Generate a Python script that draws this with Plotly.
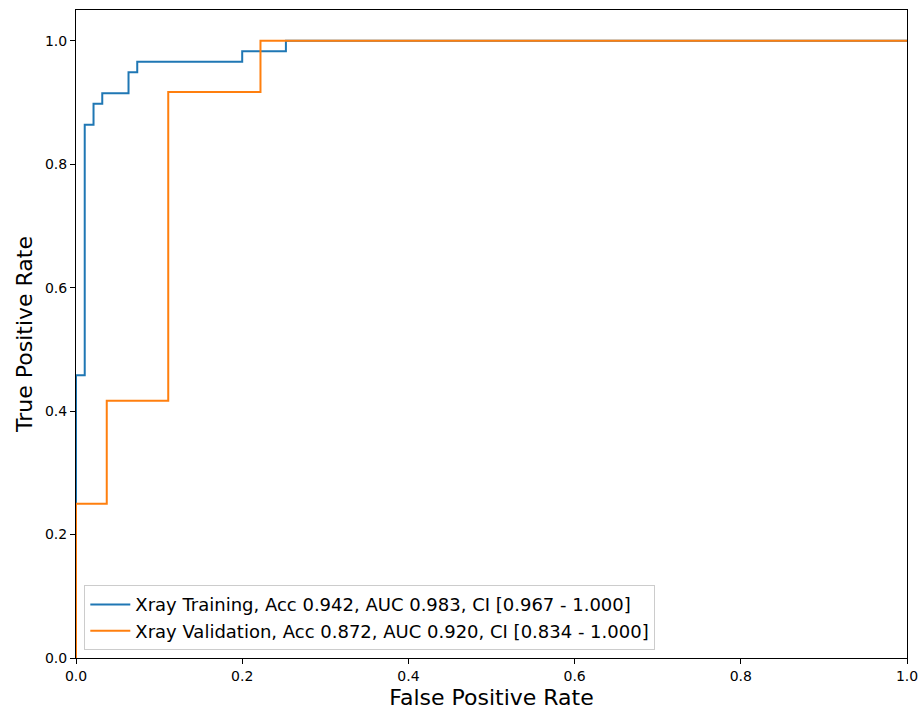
import plotly.graph_objects as go

train_fpr = [0.0, 0.0, 0.0105, 0.0211, 0.0316, 0.0632, 0.0737, 0.2, 0.2526, 1.0]
train_tpr = [0.0, 0.458, 0.864, 0.898, 0.915, 0.949, 0.966, 0.983, 1.0, 1.0]
val_fpr = [0.0, 0.0, 0.037, 0.111, 0.222, 1.0]
val_tpr = [0.0, 0.25, 0.417, 0.917, 1.0, 1.0]
train_label = "Xray Training, Acc 0.942, AUC 0.983, CI [0.967 - 1.000]"
val_label = "Xray Validation, Acc 0.872, AUC 0.920, CI [0.834 - 1.000]"
x_ticks = [0.0, 0.2, 0.4, 0.6, 0.8, 1.0]
y_ticks = [0.0, 0.2, 0.4, 0.6, 0.8, 1.0]

font = "DejaVu Sans"
fig = go.Figure()
fig.add_trace(go.Scatter(x=train_fpr, y=train_tpr, mode="lines", line_shape="hv",
                         line=dict(color="#1f77b4", width=2), name=train_label))
fig.add_trace(go.Scatter(x=val_fpr, y=val_tpr, mode="lines", line_shape="hv",
                         line=dict(color="#ff7f0e", width=2), name=val_label))

axis_common = dict(showgrid=False, zeroline=False, showline=True, linecolor="black",
                   linewidth=1, mirror=True, ticks="outside", ticklen=5, tickwidth=1,
                   tickcolor="black", automargin=False,
                   tickfont=dict(family=font, size=14, color="black"))
fig.update_xaxes(range=[0, 1], tickvals=x_ticks, ticktext=[f"{v:.1f}" for v in x_ticks],
                 title=dict(text="False Positive Rate", font=dict(family=font, size=22, color="black"), standoff=9),
                 **axis_common)
fig.update_yaxes(range=[0, 1.05], tickvals=y_ticks, ticktext=[f"{v:.1f}" for v in y_ticks],
                 title=dict(text="True Positive Rate", font=dict(family=font, size=22, color="black"), standoff=6),
                 **axis_common)
fig.update_layout(
    width=920, height=710,
    margin=dict(l=76, r=13, t=10, b=52),
    plot_bgcolor="white", paper_bgcolor="white",
    font=dict(family=font, color="black"),
    legend=dict(x=0.01, y=0.012, xanchor="left", yanchor="bottom", itemwidth=40,
                bgcolor="rgba(255,255,255,0.8)", bordercolor="#cccccc", borderwidth=1,
                font=dict(family=font, size=18, color="black")),
)
fig.write_html("out.html", config={"displayModeBar": False},
               post_script="document.body.style.margin='0';document.body.style.overflow='hidden';")
